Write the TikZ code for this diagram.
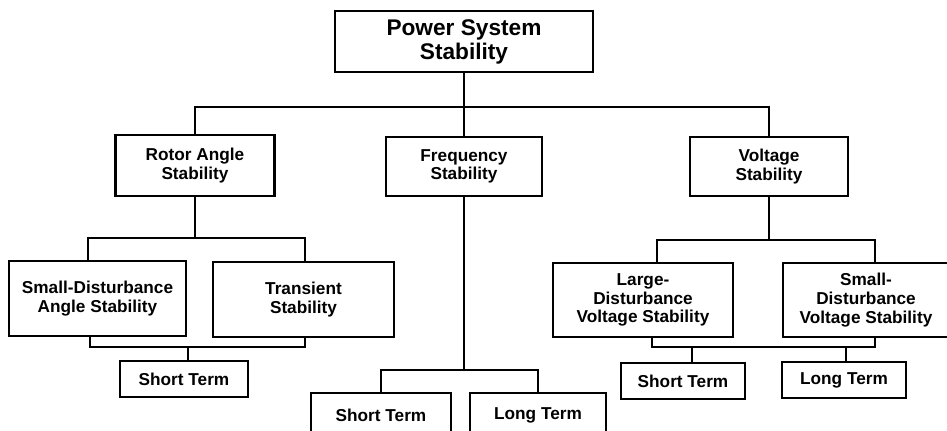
\documentclass[tikz,border=0pt]{standalone}
\usepackage{fontspec}
\setmainfont{Liberation Sans}
\usetikzlibrary{positioning,calc}

\begin{document}
\begin{tikzpicture}[
        x=0.02cm, y=-0.02cm, % one unit = one pixel of the sketch
        line width=1.3pt,
        box/.style={draw, align=center, inner sep=2pt,
            font=\bfseries\fontsize{9.8}{10.6}\selectfont},
        boxsize/.style 2 args={minimum width=#1*0.02cm, minimum height=#2*0.02cm}
    ]

        % --- FRAME ---
        \useasboundingbox (0,0) rectangle (947,431);
        \fill[white] (0,0) rectangle (947,431);
        \clip (0,0) rectangle (947,431);

        % --- ROOT ---
        \node[box, boxsize={258}{61}, font=\bfseries\fontsize{12.9}{13.7}\selectfont]
            (pss) at (464,41.5) {Power System\\Stability};

        % --- FIRST LEVEL ---
        \node[box, boxsize={159}{61}] (rotor) at (195,165.5) {Rotor Angle\\Stability};
        \node[box, boxsize={156}{59}] (freq) at (464,166.5) {Frequency\\Stability};
        \node[box, boxsize={158}{59}] (volt) at (769,166.5) {Voltage\\Stability};

        % --- SECOND LEVEL ---
        \node[box, boxsize={177}{75}] (sdang) at (97.5,298.5) {Small-Disturbance\\Angle Stability};
        \node[box, boxsize={181}{75}] (trans) at (303.5,299.5) {Transient\\Stability};
        \node[box, boxsize={180}{74}] (ldvolt) at (643,300) {Large-\\Disturbance\\Voltage Stability};
        \node[box, boxsize={166}{74}] (sdvolt) at (866,300) {Small-\\Disturbance\\Voltage Stability};

        % --- TIME FRAMES ---
        \node[box, boxsize={128}{36}] (angshort) at (184,379) {Short Term};
        \node[box, boxsize={140}{44}] (frshort) at (381,415) {Short Term};
        \node[box, boxsize={136}{44}] (frlong) at (538,415) {Long Term};
        \node[box, boxsize={124}{36}] (vshort) at (683,381) {Short Term};
        \node[box, boxsize={124}{36}] (vlong) at (844,380) {Long Term};

        % --- ROOT BRANCHES ---
        \coordinate (bus1) at (464,107);
        \draw (pss) -- (freq);
        \draw (rotor.north) |- (bus1) -| (volt.north);

        % --- ROTOR ANGLE BRANCH ---
        \coordinate (bus2) at (195,238);
        \draw (rotor) -- (bus2);
        \draw ($(sdang.north)+(-9.5,0)$) |- (bus2) -| ($(trans.north)+(1.5,0)$);
        \coordinate (brk1) at (188,347);
        \draw ($(sdang.south)+(-7.5,0)$) |- (brk1) -| ($(trans.south)+(1.5,0)$);
        \draw (brk1) -- (brk1 |- angshort.north);

        % --- FREQUENCY BRANCH ---
        \coordinate (bus3) at (464,370);
        \draw (freq) -- (bus3);
        \draw (frshort.north) |- (bus3) -| (frlong.north);

        % --- VOLTAGE BRANCH ---
        \coordinate (bus4) at (769,240);
        \draw (volt) -- (bus4);
        \draw ($(ldvolt.north)+(14,0)$) |- (bus4) -| ($(sdvolt.north)+(9,0)$);
        \coordinate (brk2) at (692,347);
        \coordinate (brk3) at (846,347);
        \draw ($(ldvolt.south)+(9,0)$) |- (brk2) -| ($(sdvolt.south)+(9,0)$);
        \draw (brk2) -- (brk2 |- vshort.north);
        \draw (brk3) -- (brk3 |- vlong.north);

    \end{tikzpicture}
\end{document}
